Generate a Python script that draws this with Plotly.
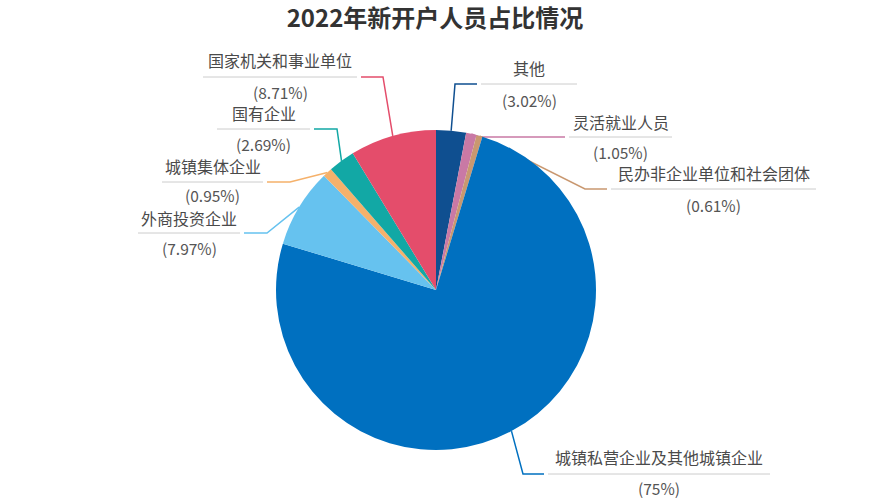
import math
import plotly.graph_objects as go

# 数据：2022年新开户人员占比（按图中顺时针顺序，从12点开始）
categories = ['其他', '灵活就业人员', '民办非企业单位和社会团体', '城镇私营企业及其他城镇企业',
              '外商投资企业', '城镇集体企业', '国有企业', '国家机关和事业单位']
shares = [3.02, 1.05, 0.61, 75, 7.97, 0.95, 2.69, 8.71]
pct_labels = ['(3.02%)', '(1.05%)', '(0.61%)', '(75%)', '(7.97%)', '(0.95%)', '(2.69%)', '(8.71%)']

colors = ['#0f4f90', '#c979a5', '#c99870', '#0070c0',
          '#66c2ef', '#f5b16b', '#12a8a5', '#e44d6b']

W, H = 870, 500
cx, cy, r = 436, 290, 160   # 饼图圆心与半径（像素）

# 标签布局（像素）：折点x, 横线y, 标注横线x0, x1, 标签名y, 百分比y
label_layout = [
    (455, 84, 481, 577, 68, 100),
    (480, 137, 569, 672, 122, 152),
    (585, 189, 611, 816, 173, 205),
    (523, 474, 548, 770, 457, 488),
    (267, 233, 138, 240, 218, 248),
    (290, 182, 162, 263, 166, 195),
    (337, 129, 217, 310, 113, 144),
    (383, 77, 203, 357, 60, 92),
]


def px(x):
    return x / W


def py(y):
    return 1 - y / H


fig = go.Figure()
fig.add_trace(go.Pie(
    labels=categories,
    values=shares,
    sort=False,
    direction='clockwise',
    rotation=0,
    textinfo='none',
    hoverinfo='label+percent',
    marker=dict(colors=colors, line=dict(width=0)),
    domain=dict(x=[px(cx - r), px(cx + r)], y=[py(cy + r), py(cy - r)]),
    showlegend=False,
))

# 引导线 + 标签
total = sum(shares)
cum = 0
shapes = []
annotations = []
for i, v in enumerate(shares):
    mid = (cum + v / 2) / total * 2 * math.pi
    cum += v
    sx = cx + r * math.sin(mid)
    sy = cy - r * math.cos(mid)
    ex, ry, x0, x1, ny, pyy = label_layout[i]
    right = x0 > ex
    end_x = x0 - 4 if right else x1 + 4
    path = f"M {px(sx)},{py(sy)} L {px(ex)},{py(ry)} L {px(end_x)},{py(ry)}"
    shapes.append(dict(type='path', path=path, xref='paper', yref='paper',
                       line=dict(color=colors[i], width=1.5), layer='below'))
    shapes.append(dict(type='line', xref='paper', yref='paper',
                       x0=px(x0), x1=px(x1), y0=py(ry), y1=py(ry),
                       line=dict(color='#cccccc', width=1)))
    mx = (x0 + x1) / 2
    annotations.append(dict(x=px(mx), y=py(ny), xref='paper', yref='paper',
                            text=categories[i], showarrow=False,
                            font=dict(size=16, color='#4a4a4a'),
                            xanchor='center', yanchor='middle'))
    annotations.append(dict(x=px(mx), y=py(pyy), xref='paper', yref='paper',
                            text=pct_labels[i], showarrow=False,
                            font=dict(size=15.5, color='#555555'),
                            xanchor='center', yanchor='middle'))

fig.update_layout(
    title=dict(text='<b>2022年新开户人员占比情况</b>', x=0.5, xanchor='center',
               y=1 - 19 / H, yanchor='middle', yref='container',
               font=dict(size=24, color='#333333')),
    width=W,
    height=H,
    margin=dict(l=0, r=0, t=0, b=0),
    paper_bgcolor='white',
    plot_bgcolor='white',
    font=dict(family='Noto Sans CJK SC'),
    shapes=shapes,
    annotations=annotations,
)

# 去掉页面默认边距，让图表贴齐窗口左上角
fig.write_html("out.html", config={'displayModeBar': False},
               post_script="document.body.style.margin='0';")
